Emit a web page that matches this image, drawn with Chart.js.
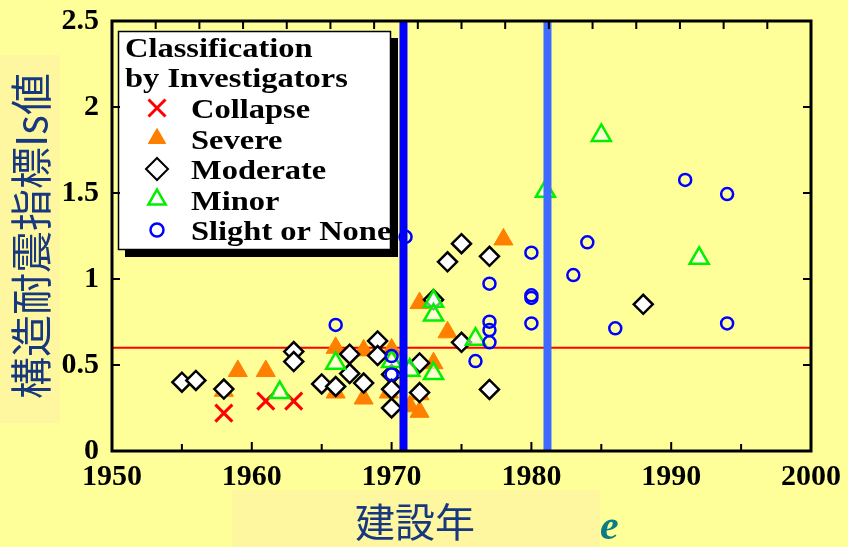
<!DOCTYPE html>
<html>
<head>
<meta charset="utf-8">
<script src="https://cdn.jsdelivr.net/npm/chart.js@4.4.1/dist/chart.umd.min.js"></script>
<style>
  html, body { margin: 0; padding: 0; background: #FFFF99; }
  #wrap { position: relative; width: 848px; height: 547px; overflow: hidden; }
  #c { position: absolute; left: 0; top: 0; }
  .xtitle { position: absolute; left: 355px; top: 494px; font-family: "Noto Sans CJK JP", sans-serif; font-size: 40px; line-height: 52px; color: #17387F; white-space: nowrap; }
  .emark { position: absolute; left: 600px; top: 499px; font-family: "Liberation Serif", serif; font-style: italic; font-weight: bold; font-size: 42px; line-height: 52px; color: #0B7C82; }
</style>
</head>
<body>
<div id="wrap">
  <canvas id="c" width="848" height="547"></canvas>
  <div class="xtitle">建設年</div>
  <div class="emark">e</div>
</div>
<script>
// Seismic index (Is) of surveyed buildings by year of construction,
// grouped by the damage class assigned by the investigators.
const collapseYears = [1958, 1961, 1963];
const collapseIs    = [0.22, 0.29, 0.29];

const severeYears = [1958, 1959, 1961, 1966, 1966, 1968, 1968, 1969.8, 1970, 1971.3, 1972, 1972, 1972, 1973, 1974, 1978];
const severeIs    = [0.35, 0.465, 0.465, 0.60, 0.34, 0.585, 0.305, 0.34, 0.59, 0.26, 0.86, 0.33, 0.228, 0.51, 0.69, 1.23];

const moderateYears = [1955, 1956, 1958, 1963, 1963, 1965, 1966, 1967, 1967, 1968, 1969, 1969, 1970, 1970, 1970, 1972, 1972, 1973, 1974, 1975, 1975, 1977, 1977, 1988];
const moderateIs    = [0.40, 0.41, 0.36, 0.578, 0.52, 0.39, 0.375, 0.563, 0.45, 0.395, 0.64, 0.555, 0.445, 0.359, 0.25, 0.512, 0.34, 0.88, 1.10, 1.205, 0.632, 1.132, 0.358, 0.853];

const minorYears = [1962, 1966, 1970, 1971.3, 1973, 1973, 1973, 1976, 1981, 1985, 1992];
const minorIs    = [0.34, 0.51, 0.52, 0.47, 0.87, 0.79, 0.45, 0.65, 1.51, 1.835, 1.12];

const slightYears = [1966, 1970, 1970, 1971, 1976, 1977, 1977, 1977, 1977, 1980, 1980, 1980, 1980, 1983, 1984, 1986, 1991, 1994, 1994];
const slightIs    = [0.733, 0.552, 0.445, 1.245, 0.523, 0.973, 0.752, 0.703, 0.632, 1.153, 0.905, 0.89, 0.742, 1.023, 1.213, 0.713, 1.576, 1.494, 0.742];

// Reference lines: required Is level and the two code revision years
const isRequired = 0.6;
const codeRevision1971 = 1970.85;
const codeRevision1981 = 1981.15;

// Axis ranges and tick labels
const yearRange = [1950, 2000];
const isRange = [0, 2.5];
const yearTickLabels = ['1950', '1960', '1970', '1980', '1990', '2000'];
const isTickLabels = ['0', '0.5', '1', '1.5', '2', '2.5'];

const legendTitle = ['Classification', 'by Investigators'];
const classNames = ['Collapse', 'Severe', 'Moderate', 'Minor', 'Slight or None'];

const pts = (xs, ys) => xs.map((x, i) => ({ x: x, y: ys[i] }));

const classStyles = [
  { pointStyle: 'crossRot', pointRadius: 12, borderColor: '#FF0000', backgroundColor: '#FF0000', pointBorderWidth: 3, order: 6 },
  { pointStyle: 'triangle', pointRadius: 11, borderColor: '#FF7F00', backgroundColor: '#FF7F00', pointBorderWidth: 1, order: 5 },
  { pointStyle: 'rectRot', pointRadius: 9.5, borderColor: '#000000', backgroundColor: '#FFFFFF', pointBorderWidth: 2.5, order: 4 },
  { pointStyle: 'triangle', pointRadius: 11, borderColor: '#00F000', backgroundColor: 'rgba(255,255,255,0.6)', pointBorderWidth: 2.5, order: 3 },
  { pointStyle: 'circle', pointRadius: 6, borderColor: '#0000FF', backgroundColor: 'rgba(0,0,0,0)', pointBorderWidth: 2.5, order: 2 }
];
const classData = [
  pts(collapseYears, collapseIs),
  pts(severeYears, severeIs),
  pts(moderateYears, moderateIs),
  pts(minorYears, minorIs),
  pts(slightYears, slightIs)
];

const datasets = classNames.map((name, i) => Object.assign({
  type: 'scatter',
  label: name,
  data: classData[i],
  pointHoverRadius: classStyles[i].pointRadius
}, classStyles[i]));

datasets.push({
  type: 'line', label: 'Is 0.6',
  data: [{ x: yearRange[0], y: isRequired }, { x: yearRange[1], y: isRequired }],
  borderColor: '#FF0000', borderWidth: 2, pointRadius: 0, order: 10
});
datasets.push({
  type: 'line', label: '1971',
  data: [{ x: codeRevision1971, y: isRange[0] }, { x: codeRevision1971, y: isRange[1] }],
  borderColor: '#0000FF', borderWidth: 8, pointRadius: 0, order: 1
});
datasets.push({
  type: 'line', label: '1981',
  data: [{ x: codeRevision1981, y: isRange[0] }, { x: codeRevision1981, y: isRange[1] }],
  borderColor: '#3F6AFF', borderWidth: 8, pointRadius: 0, order: 0
});

// Background panels behind the axis titles
const backdrop = {
  id: 'backdrop',
  beforeDraw(chart) {
    const ctx = chart.ctx;
    ctx.save();
    ctx.fillStyle = '#FFFF99';
    ctx.fillRect(0, 0, chart.width, chart.height);
    ctx.fillStyle = '#FFF7A0';
    ctx.fillRect(0, 55, 60, 368);
    ctx.fillRect(232, 490, 368, 57);
    ctx.restore();
  }
};

// Boxed legend with drop shadow inside the plot
const boxLegend = {
  id: 'boxLegend',
  beforeDatasetsDraw(chart) {
    const ctx = chart.ctx;
    const left = 118, top = 31, w = 273, h = 219, sh = 7;
    ctx.save();
    ctx.fillStyle = '#000';
    ctx.fillRect(left + sh, top + sh, w, h);
    ctx.fillStyle = '#FFF';
    ctx.fillRect(left, top, w, h);
    ctx.strokeStyle = '#000';
    ctx.lineWidth = 1.5;
    ctx.strokeRect(left + 0.5, top + 0.5, w - 1, h - 1);

    ctx.font = 'bold 28px "Liberation Serif", serif';
    ctx.fillStyle = '#000';
    ctx.textBaseline = 'alphabetic';
    const drawText = (t, x, y) => {
      ctx.save();
      ctx.translate(x, y);
      ctx.scale(1.16, 1);
      ctx.fillText(t, 0, 0);
      ctx.restore();
    };
    drawText(legendTitle[0], 125, 57);
    drawText(legendTitle[1], 125, 87);
    const legendRadius = [12, 10, 11, 10, 6.5];
    const legendBorder = [3, 1, 2, 2.5, 2.5];
    classNames.forEach((name, i) => {
      const base = 118 + i * 30.5;
      const st = classStyles[i];
      ctx.save();
      ctx.strokeStyle = st.borderColor;
      ctx.fillStyle = st.pointStyle === 'rectRot' || st.pointStyle === 'circle' || i === 3 ? '#FFFFFF' : st.backgroundColor;
      ctx.lineWidth = legendBorder[i];
      Chart.helpers.drawPoint(ctx, {
        pointStyle: st.pointStyle, radius: legendRadius[i], rotation: 0, borderWidth: legendBorder[i]
      }, 157, base - 10);
      ctx.restore();
      ctx.fillStyle = '#000';
      drawText(name, 191, base);
    });
    ctx.restore();
  }
};

// Plot frame with inward tick marks on all four sides
const frame = {
  id: 'frame',
  afterDatasetsDraw(chart) {
    const ctx = chart.ctx;
    const a = chart.chartArea;
    const xs = chart.scales.x, ys = chart.scales.y;
    ctx.save();
    ctx.strokeStyle = '#000';
    ctx.lineWidth = 2;
    ctx.beginPath();
    for (let yr = xs.min; yr <= xs.max; yr += 5) {
      const px = xs.getPixelForValue(yr);
      const len = (yr % 10 === 0) ? 9 : 7;
      ctx.moveTo(px, a.bottom); ctx.lineTo(px, a.bottom - len);
    }
    for (let k = 1; k < 16; k++) {
      const px = a.left + (a.right - a.left) * k / 16;
      ctx.moveTo(px, a.top); ctx.lineTo(px, a.top + 8);
    }
    ys.ticks.forEach(t => {
      const py = ys.getPixelForValue(t.value);
      ctx.moveTo(a.left, py); ctx.lineTo(a.left + 8, py);
      ctx.moveTo(a.right, py); ctx.lineTo(a.right - 8, py);
    });
    ctx.stroke();
    ctx.lineWidth = 3;
    ctx.strokeRect(a.left, a.top, a.right - a.left, a.bottom - a.top);
    ctx.restore();
  }
};

const tickFont = { family: '"Liberation Serif", serif', size: 30, weight: 'bold' };

new Chart(document.getElementById('c'), {
  type: 'scatter',
  data: { datasets: datasets },
  options: {
    responsive: false,
    animation: false,
    devicePixelRatio: 1,
    layout: { padding: { left: 0, right: 37, top: 21, bottom: 0 } },
    plugins: { legend: { display: false }, tooltip: { enabled: false } },
    scales: {
      x: {
        type: 'linear', min: yearRange[0], max: yearRange[1],
        grid: { display: false, drawTicks: false },
        border: { display: false },
        ticks: {
          stepSize: 10, font: tickFont, color: '#000', padding: 8, maxRotation: 0,
          callback: (v) => yearTickLabels[Math.round((v - yearRange[0]) / 10)]
        },
        afterFit: (s) => { s.height = 96; s.paddingLeft = 0; s.paddingRight = 0; }
      },
      y: {
        type: 'linear', min: isRange[0], max: isRange[1],
        grid: { display: false, drawTicks: false },
        border: { display: false },
        ticks: {
          stepSize: 0.5, font: tickFont, color: '#000', padding: 13,
          callback: (v) => isTickLabels[Math.round(v / 0.5)]
        },
        title: {
          display: true, text: '構造耐震指標Is値', color: '#17387F',
          font: { family: '"Noto Sans CJK JP", sans-serif', size: 42 },
          padding: { top: 6, bottom: 0 }
        },
        afterFit: (s) => { s.width = 112; s.paddingTop = 0; s.paddingBottom = 0; }
      }
    }
  },
  plugins: [backdrop, boxLegend, frame]
});
</script>
</body>
</html>
